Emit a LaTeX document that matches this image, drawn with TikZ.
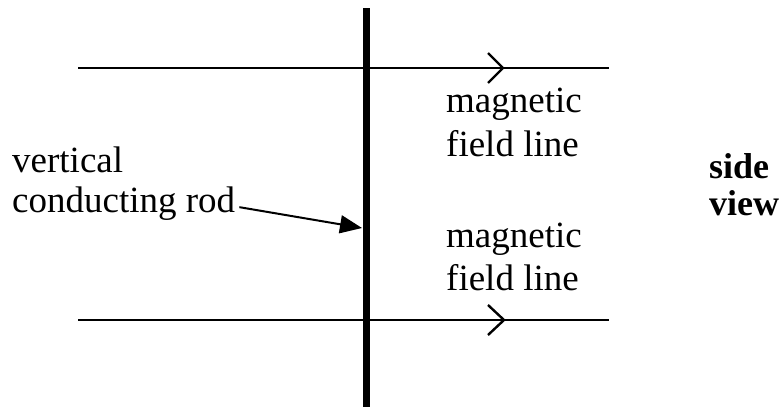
\documentclass[tikz,border=0pt]{standalone}
\usepackage{fontspec}
\setmainfont{Liberation Serif}
\usetikzlibrary{arrows.meta}
\begin{document}
\begin{tikzpicture}[x=1pt,y=-1pt,
  lbl/.style={anchor=base west,inner sep=0pt,font=\fontsize{37}{44}\selectfont},
  blbl/.style={lbl,font=\fontsize{36}{44}\selectfont\bfseries},
  fieldline/.style={line width=2.8pt},
  chev/.style={line width=2.4pt,line join=miter},
  rodline/.style={line width=7.5pt}]
\useasboundingbox (0,0) rectangle (781,407);
% rod
\coordinate (rodtop) at (366.5,8);
\coordinate (rodbot) at (366.5,407);
\draw[rodline] (rodtop) -- (rodbot);
% field lines
\coordinate (l1a) at (78,68); \coordinate (l1b) at (609,68);
\coordinate (l2a) at (78,320); \coordinate (l2b) at (609,320);
\draw[fieldline] (l1a) -- (l1b);
\draw[fieldline] (l2a) -- (l2b);
\draw[chev] (488,53) -- (503,68) -- (488,83);
\draw[chev] (488,305) -- (504,320) -- (488,335);
% labels
\node[lbl] (m1) at (446,112) {magnetic};
\node[lbl] (f1) at (446,156) {field line};
\node[lbl] (m2) at (446,247) {magnetic};
\node[lbl] (f2) at (446,290) {field line};
\node[lbl] (v) at (12,172) {vertical};
\node[lbl] (c) at (12,212) {conducting rod};
\node[blbl] (s) at (709,178) {side};
\node[blbl] (w) at (709,215) {view};
% pointer
\coordinate (hit) at (362,228);
\draw[line width=2pt,-{Triangle[length=22pt,width=18pt]}] ([xshift=4pt,yshift=-4pt]c.east) -- (hit);
\end{tikzpicture}
\end{document}
